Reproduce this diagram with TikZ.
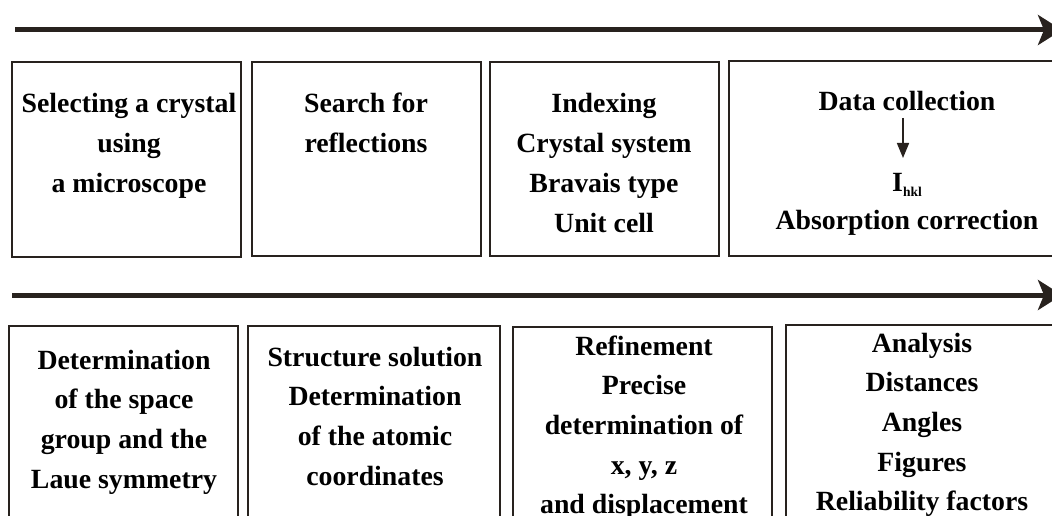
\documentclass[tikz,border=0pt]{standalone}
\usepackage{fontspec}
\setmainfont{Liberation Serif}
\usetikzlibrary{arrows.meta}
\definecolor{ink}{RGB}{40,34,30}
\newcommand\linesof[1]{\vtop{\baselineskip=39.7pt\lineskiplimit=-100pt\halign{\hfil##\hfil\cr#1\crcr}}}
\tikzset{
  box/.style={draw=ink, line width=2pt, rectangle, inner sep=0pt},
  lbl/.style={anchor=base, inner sep=0pt, text=black, font=\fontsize{27.8}{39.7}\selectfont\bfseries},
  flow/.style={draw=ink, line width=5pt, -{Stealth[length=24pt,width=30pt,inset=6pt]}},
  small/.style={draw=ink, line width=1.6pt, -{Triangle[length=15pt,width=12pt]}}
}
\begin{document}
\begin{tikzpicture}[x=1pt,y=-1pt]
\useasboundingbox (0,0) rectangle (1052,516);
\clip (0,0) rectangle (1052,516);
% flow arrows
\coordinate (a1s) at (15,30);
\coordinate (a1e) at (1062,30);
\coordinate (a2s) at (12,295);
\coordinate (a2e) at (1062,295);
\draw[flow] (a1s) -- (a1e);
\draw[flow] (a2s) -- (a2e);
% top boxes
\draw[box] (12,62) rectangle (241,257);
\draw[box] (252,62) rectangle (481,256);
\draw[box] (490,62) rectangle (719,256);
\draw[box] (729,61) rectangle (1070,256);
% bottom boxes
\draw[box] (9,326) rectangle (238,540);
\draw[box] (248,326) rectangle (500,540);
\draw[box] (513,327) rectangle (772,540);
\draw[box] (786,325) rectangle (1070,540);
% top texts
\node[lbl] (t1) at (129,113) {\linesof{Selecting a crystal\cr using\cr a microscope}};
\node[lbl] (t2) at (366,113) {\linesof{Search for\cr reflections}};
\node[lbl] (t3) at (604,113) {\linesof{Indexing\cr Crystal system\cr Bravais type\cr Unit cell}};
\node[lbl] (t4a) at (907,111) {Data collection};
\node[lbl] (t4b) at (907,191) {I\raisebox{-5pt}{\fontsize{13.5}{15}\selectfont hkl}};
\node[lbl] (t4c) at (907,229) {Absorption correction};
\coordinate (sa) at (903,118);
\coordinate (sb) at (903,158);
\draw[small] (sa) -- (sb);
% bottom texts
\node[lbl] (b1) at (124,369) {\linesof{Determination\cr of the space\cr group and the\cr Laue symmetry}};
\node[lbl] (b2) at (375,366) {\linesof{Structure solution\cr Determination\cr of the atomic\cr coordinates}};
\node[lbl] (b3) at (644,355) {\linesof{Refinement\cr Precise\cr determination of\cr x, y, z\cr and displacement}};
\node[lbl] (b4) at (922,352) {\linesof{Analysis\cr Distances\cr Angles\cr Figures\cr Reliability factors}};
\end{tikzpicture}
\end{document}
